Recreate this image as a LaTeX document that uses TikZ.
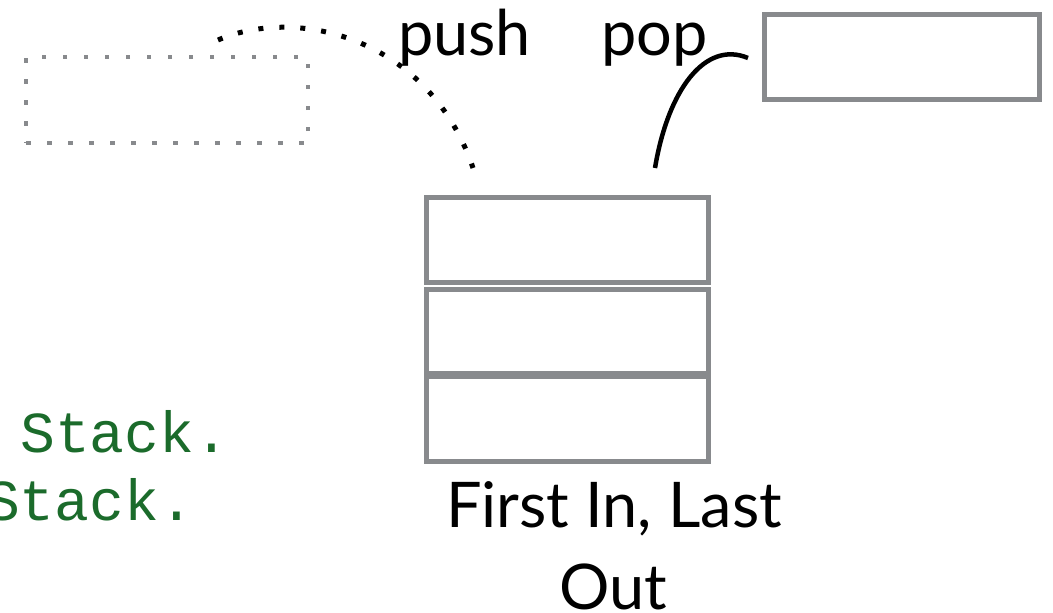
\documentclass[tikz,border=0pt]{standalone}
\usepackage{fontspec}
\newfontfamily\gill{Lato}
\newfontfamily\mono{Liberation Mono}
\definecolor{boxgray}{HTML}{888A8D}
\definecolor{codegreen}{HTML}{1B6B2B}
\tikzset{
  cell/.style={draw=boxgray, line width=5pt, rectangle, inner sep=0pt, minimum width=282pt, minimum height=85pt},
  ghost/.style={draw=boxgray, line width=4.5pt, rectangle, inner sep=0pt, dash pattern=on 4.5pt off 16.5pt, minimum width=282pt, minimum height=86pt},
  label/.style={font=\gill\fontsize{63}{85}\selectfont, inner sep=0pt},
  code/.style={font=\mono\fontsize{58}{68}\selectfont, text=codegreen, inner sep=0pt, anchor=base west},
  pushline/.style={line width=5pt, dash pattern=on 5pt off 16pt},
  popline/.style={line width=4.5pt}
}
\begin{document}
\begin{tikzpicture}[x=1pt,y=-1pt]
\useasboundingbox (0,0) rectangle (1053,613);
\begin{scope}
\clip (0,0) rectangle (1053,613);
% stack
\node[cell] (s1) at (567.5,240) {};
\node[cell, minimum height=84pt] (s2) at (567.5,331) {};
\node[cell] (s3) at (567.5,418.5) {};
% popped box
\node[cell, minimum width=275pt] (popped) at (901.5,56.5) {};
% ghost box
\node[ghost] (ghostbox) at (167,100) {};
% connectors
\coordinate (pushstart) at (218,40);
\coordinate (pushend) at (473,168);
\coordinate (popstart) at (655,168);
\coordinate (popend) at (748,58);
\draw[pushline] (pushstart) .. controls (300,5) and (430,40) .. (pushend);
\draw[popline] (popstart) .. controls (668,90) and (705,40) .. (popend);
% labels
\node[label, anchor=base west] (push) at (398,55) {push};
\node[label, anchor=base west] (pop) at (601,55) {pop};
\node[label, anchor=base] (fill) at (614,527) {First In, Last};
\node[label, anchor=base] (filo) at (613,609) {Out};
% code
\node[code] (code1) at (20,452) {Stack.};
\node[code] (code2) at (-15,520) {Stack.};
\end{scope}
\end{tikzpicture}
\end{document}
